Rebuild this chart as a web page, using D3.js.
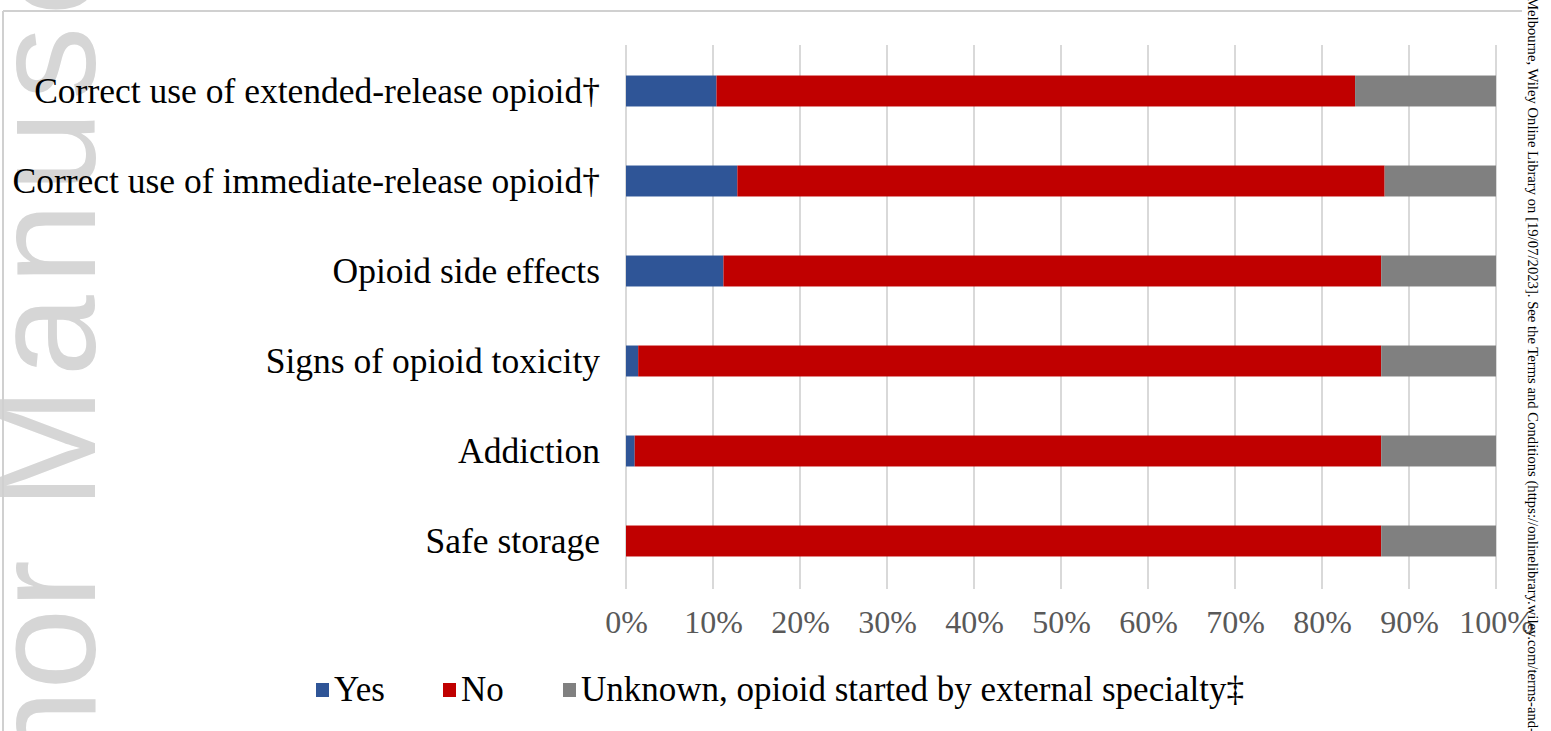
<!DOCTYPE html>
<html>
<head>
<meta charset="utf-8">
<script src="https://cdn.jsdelivr.net/npm/d3@7"></script>
<style>
  html, body { margin: 0; padding: 0; background: #ffffff; overflow: hidden; }
  svg { display: block; }
</style>
</head>
<body>
<svg id="chart" width="1551" height="731"></svg>
<script>
// ---- data ----
const categories = [
  "Correct use of extended-release opioid\u2020",
  "Correct use of immediate-release opioid\u2020",
  "Opioid side effects",
  "Signs of opioid toxicity",
  "Addiction",
  "Safe storage"
];
const seriesNames = ["Yes", "No", "Unknown, opioid started by external specialty\u2021"];
const yesValues = [10.4, 12.8, 11.2, 1.4, 1.0, 0.0];
const noValues = [73.4, 74.4, 75.6, 85.4, 85.8, 86.8];
const unknownValues = [16.2, 12.8, 13.2, 13.2, 13.2, 13.2];
const tickValues = [0, 10, 20, 30, 40, 50, 60, 70, 80, 90, 100];
const tickLabels = ["0%", "10%", "20%", "30%", "40%", "50%", "60%", "70%", "80%", "90%", "100%"];
const seriesColors = ["#2f5597", "#c00000", "#808080"];
const watermarkA = "Author";
const watermarkB = "Manuscript";
const sideNote = "Melbourne, Wiley Online Library on [19/07/2023]. See the Terms and Conditions (https://onlinelibrary.wiley.com/terms-and-";

const svg = d3.select("#chart");
const serif = "'Liberation Serif', 'Times New Roman', serif";

// ---- watermark ----
const wm = svg.append("g").attr("fill", "#d6d6d6")
  .attr("font-family", "'Liberation Sans', Arial, sans-serif")
  .attr("font-size", 146);
wm.append("text").attr("transform", "translate(95,560) rotate(-90)")
  .attr("text-anchor", "end").text(watermarkA);
wm.append("text").attr("transform", "translate(95,509) rotate(-90)")
  .attr("text-anchor", "start").attr("letter-spacing", 11).text(watermarkB);

// ---- frame lines ----
svg.append("line").attr("x1", 3).attr("x2", 1522).attr("y1", 11).attr("y2", 11)
  .attr("stroke", "#d0d0d0").attr("stroke-width", 2);
svg.append("line").attr("x1", 3).attr("x2", 3).attr("y1", 11).attr("y2", 731)
  .attr("stroke", "#d0d0d0").attr("stroke-width", 2);

// ---- scales ----
const x = d3.scaleLinear().domain([0, 100]).range([626, 1496]);
const y = d3.scaleBand().domain(categories).range([46, 586])
  .paddingInner(0.656).paddingOuter(0.328);

// gridlines
svg.append("g").selectAll("line").data(tickValues).join("line")
  .attr("x1", d => x(d)).attr("x2", d => x(d))
  .attr("y1", 45).attr("y2", 589)
  .attr("stroke", "#d9d9d9").attr("stroke-width", 2);

// stacked bars
const rows = categories.map((c, i) => ({ cat: c, Yes: yesValues[i], No: noValues[i], Unknown: unknownValues[i] }));
const stack = d3.stack().keys(["Yes", "No", "Unknown"])(rows);
svg.append("g").selectAll("g").data(stack).join("g")
  .attr("fill", (d, i) => seriesColors[i])
  .selectAll("rect").data(d => d).join("rect")
  .attr("x", d => x(d[0]))
  .attr("width", d => Math.max(0, x(d[1]) - x(d[0])))
  .attr("y", d => y(d.data.cat))
  .attr("height", y.bandwidth());

// x axis labels
const xAxis = d3.axisBottom(x).tickValues(tickValues)
  .tickFormat((d, i) => tickLabels[i]).tickSize(0).tickPadding(0);
const gx = svg.append("g").attr("transform", "translate(0,610)").call(xAxis);
gx.select(".domain").remove();
gx.selectAll("text").attr("font-family", serif).attr("font-size", 32)
  .attr("fill", "#595959").attr("dy", "0.71em");

// y axis labels
const yAxis = d3.axisLeft(y).tickSize(0).tickPadding(0);
const gy = svg.append("g").attr("transform", "translate(600,0)").call(yAxis);
gy.select(".domain").remove();
gy.selectAll("text").attr("font-family", serif).attr("font-size", 35.5)
  .attr("fill", "#000000").attr("dy", "0.33em");

// ---- legend ----
const legendX = [316, 443, 563];
const leg = svg.append("g");
const li = leg.selectAll("g").data(seriesNames).join("g")
  .attr("transform", (d, i) => `translate(${legendX[i]},683)`);
li.append("rect").attr("width", 13).attr("height", 14).attr("fill", (d, i) => seriesColors[i]);
li.append("text").attr("x", 18).attr("y", 18)
  .attr("font-family", serif).attr("font-size", 35).attr("fill", "#000")
  .text(d => d);

// ---- side note ----
svg.append("text")
  .attr("transform", "translate(1528,-3) rotate(90)")
  .attr("font-family", serif).attr("font-size", 15).attr("fill", "#000")
  .attr("textLength", 736).attr("lengthAdjust", "spacingAndGlyphs")
  .text(sideNote);
</script>
</body>
</html>
